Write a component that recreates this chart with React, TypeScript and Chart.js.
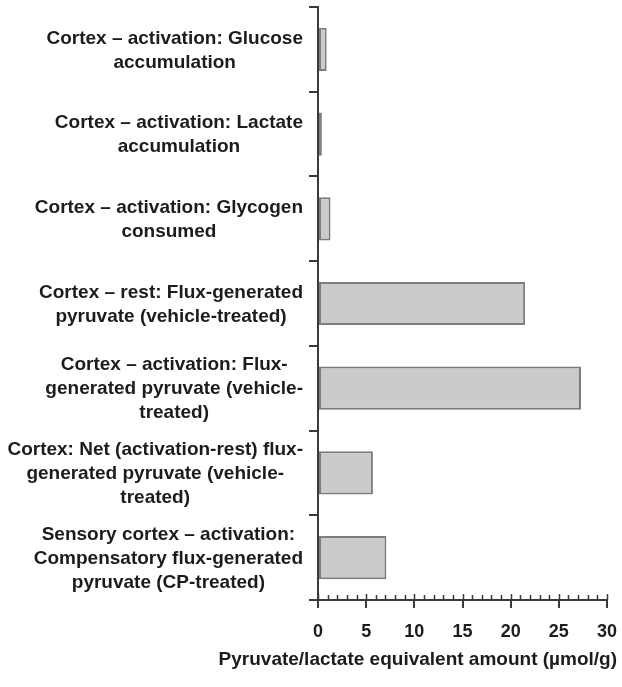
import React, { useEffect, useRef } from 'react';
import { Chart, registerables } from 'chart.js';

Chart.register(...registerables);

const categories: string[][] = [
  ['Cortex – activation: Glucose', 'accumulation'],
  ['Cortex – activation: Lactate', 'accumulation'],
  ['Cortex – activation: Glycogen', 'consumed'],
  ['Cortex – rest: Flux-generated', 'pyruvate (vehicle-treated)'],
  ['Cortex – activation: Flux-', 'generated pyruvate (vehicle-', 'treated)'],
  ['Cortex: Net (activation-rest) flux-', 'generated pyruvate (vehicle-', 'treated)'],
  ['Sensory cortex – activation:', 'Compensatory flux-generated', 'pyruvate (CP-treated)'],
];
const values: number[] = [0.9, 0.4, 1.3, 21.5, 27.3, 5.7, 7.1];
const xMin = 0;
const xMax = 30;
const xMajorStep = 5;
const xMinorStep = 1;
const axisTitle = 'Pyruvate/lactate equivalent amount (µmol/g)';

const FONT = '"Liberation Sans", Arial, Helvetica, sans-serif';
const TEXT = '#1c1c1c';
const AXIS = '#3a3a3a';

const decorPlugin = {
  id: 'decor',
  afterDraw(chart: any) {
    const ctx = chart.ctx as CanvasRenderingContext2D;
    const ys = chart.scales.y;
    const xs = chart.scales.x;
    const area = chart.chartArea;
    ctx.save();
    ctx.font = `bold 19px ${FONT}`;
    ctx.fillStyle = TEXT;
    ctx.textBaseline = 'middle';
    ctx.textAlign = 'center';
    const rightEdge = area.left - 15;
    const lh = 24;
    (chart.data.labels as string[][]).forEach((lines, i) => {
      const cy = ys.getPixelForValue(i);
      const w = Math.max(...lines.map((l) => ctx.measureText(l).width));
      const cx = rightEdge - w / 2;
      lines.forEach((l, j) => {
        ctx.fillText(l, cx, cy + 1 + (j - (lines.length - 1) / 2) * lh);
      });
    });
    ctx.strokeStyle = AXIS;
    ctx.lineWidth = 1.5;
    const b = area.bottom;
    for (let v = xMin; v <= xMax; v += xMinorStep) {
      const px = Math.round(xs.getPixelForValue(v)) + 0.5;
      const major = v % xMajorStep === 0;
      ctx.beginPath();
      ctx.moveTo(px, b - (major ? 6 : 5));
      ctx.lineTo(px, b);
      ctx.stroke();
    }
    ctx.font = `bold 19px ${FONT}`;
    ctx.textAlign = 'right';
    ctx.textBaseline = 'middle';
    ctx.fillText(axisTitle, chart.width - 5, 660);
    ctx.restore();
  },
};

export default function App() {
  const ref = useRef<HTMLCanvasElement>(null);
  useEffect(() => {
    document.body.style.margin = '0';
    const canvas = ref.current!;
    const chart = new Chart(canvas, {
      type: 'bar',
      data: {
        labels: categories as any,
        datasets: [
          {
            data: values,
            backgroundColor: '#cbcbcb',
            borderColor: '#7d7d7d',
            borderWidth: 2,
            borderSkipped: false,
            barPercentage: 0.51,
            categoryPercentage: 1,
          },
        ],
      },
      options: {
        indexAxis: 'y',
        responsive: false,
        animation: false,
        maintainAspectRatio: false,
        layout: { padding: { left: 309, top: 7, right: 15, bottom: 31 } },
        plugins: { legend: { display: false }, tooltip: { enabled: false } },
        scales: {
          x: {
            min: xMin,
            max: xMax,
            ticks: {
              stepSize: xMajorStep,
              color: TEXT,
              font: { family: FONT, size: 18, weight: 'bold', lineHeight: '44px' },
              padding: 2,
              maxRotation: 0,
            },
            grid: { drawOnChartArea: false, tickLength: 8, color: AXIS, lineWidth: 2 },
            border: { color: AXIS, width: 2 },
          },
          y: {
            ticks: { display: false },
            grid: { drawOnChartArea: false, tickLength: 9, color: AXIS, lineWidth: 2, offset: true },
            border: { color: AXIS, width: 2 },
          },
        },
      },
      plugins: [decorPlugin],
    });
    return () => chart.destroy();
  }, []);
  return <canvas ref={ref} width={622} height={687} style={{ display: 'block' }} />;
}
